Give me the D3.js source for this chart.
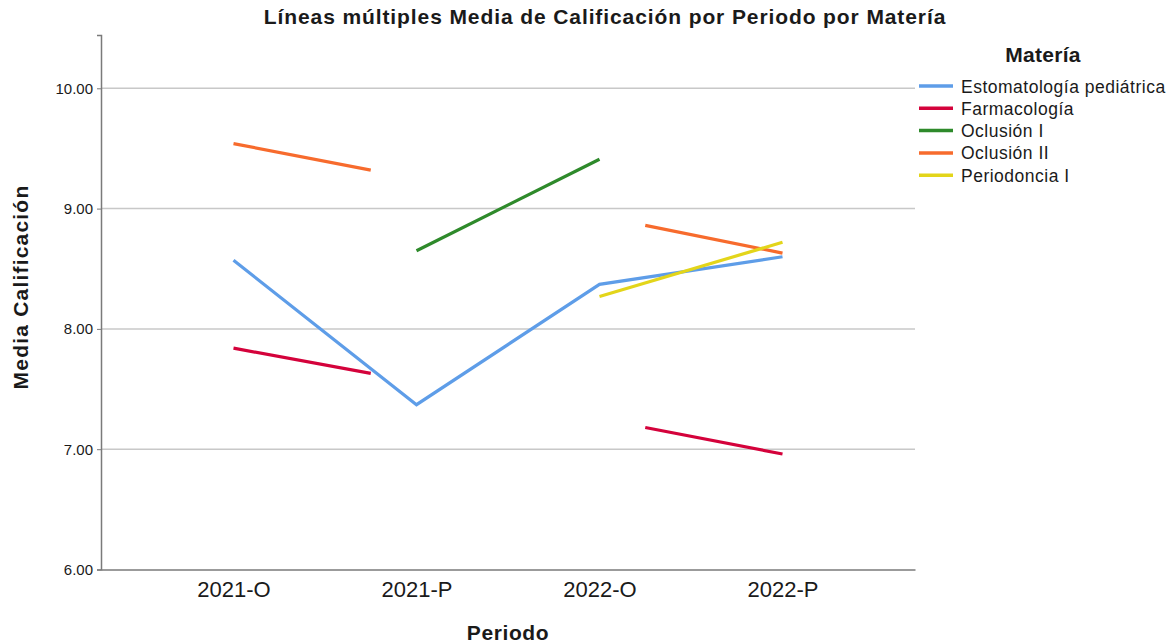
<!DOCTYPE html>
<html>
<head>
    <meta charset="utf-8">
    <style>
        body { margin: 0; background: #fff; }
        text { font-family: "Liberation Sans", Arial, Helvetica, sans-serif; fill: #1a1a1a; }
        .grid line { stroke: #c8c8c8; stroke-width: 1.5px; }
        .serie { fill: none; stroke-width: 3.2px; }
    </style>
    <script src="https://d3js.org/d3.v7.min.js"></script>
</head>
<body>
<script>
    // periodos del eje x
    var periodos = ["2021-O", "2021-P", "2022-O", "2022-P"];
    var yTicks = [6, 7, 8, 9, 10];

    // materias (leyenda) y colores
    var materias = ["Estomatología pediátrica", "Farmacología", "Oclusión I", "Oclusión II", "Periodoncia I"];
    var colores = ["#5e9de8", "#d4023b", "#2e8a2b", "#f76b2d", "#e3d51a"];

    // medias: [indice de periodo, media], null = corte
    var estomatologia = [[0, 8.57], [1, 7.37], [2, 8.37], [3, 8.60]];
    var farmacologia = [[0, 7.84], [0.75, 7.63], null, [2.25, 7.18], [3, 6.96]];
    var oclusion1 = [[1, 8.65], [2, 9.41]];
    var oclusion2 = [[0, 9.54], [0.75, 9.32], null, [2.25, 8.86], [3, 8.63]];
    var periodoncia = [[2, 8.27], [3, 8.72]];

    var series = [estomatologia, farmacologia, oclusion1, oclusion2, periodoncia];

    var width = 1175, height = 644;
    var plot = { left: 101, right: 915, top: 35, bottom: 569.5 };

    var svg = d3.select("body").append("svg")
        .attr("width", width)
        .attr("height", height);

    // escalas
    var x = d3.scalePoint()
        .domain(periodos)
        .range([plot.left, plot.right])
        .padding(0.724);

    var xi = d3.scaleLinear()
        .domain([0, periodos.length - 1])
        .range([x(periodos[0]), x(periodos[periodos.length - 1])]);

    var y = d3.scaleLinear()
        .domain([6, 10.443])
        .range([plot.bottom, plot.top]);

    // lineas de cuadricula
    svg.append("g")
        .attr("class", "grid")
        .selectAll("line")
        .data(yTicks.filter(function(d) { return d > 6; }))
        .enter().append("line")
        .attr("x1", plot.left)
        .attr("x2", plot.right)
        .attr("y1", function(d) { return y(d); })
        .attr("y2", function(d) { return y(d); });

    // eje y
    var yAxis = svg.append("g")
        .attr("transform", "translate(" + plot.left + ",0)")
        .call(d3.axisLeft(y).tickValues(yTicks).tickSize(4).tickPadding(4).tickFormat(d3.format(".2f")));
    yAxis.select(".domain").attr("stroke", "#7a7a7a").attr("stroke-width", 1.5);
    yAxis.selectAll(".tick line").attr("stroke", "#7a7a7a");
    yAxis.selectAll(".tick text")
        .attr("font-size", "15px")
        .attr("fill", "#222")
        .style("font-family", "'Liberation Sans', Arial, sans-serif");

    // eje x
    var xAxis = svg.append("g")
        .attr("transform", "translate(0," + plot.bottom + ")")
        .call(d3.axisBottom(x).tickSize(0).tickPadding(12).tickSizeOuter(0));
    xAxis.select(".domain").attr("stroke", "#7a7a7a").attr("stroke-width", 1.5);
    xAxis.selectAll(".tick text")
        .attr("font-size", "22px")
        .attr("fill", "#222")
        .style("font-family", "'Liberation Sans', Arial, sans-serif");

    // lineas
    var line = d3.line()
        .defined(function(d) { return d !== null; })
        .x(function(d) { return xi(d[0]); })
        .y(function(d) { return y(d[1]); });

    svg.append("g").selectAll("path")
        .data(series)
        .enter().append("path")
        .attr("class", "serie")
        .attr("stroke", function(d, i) { return colores[i]; })
        .attr("d", line);

    // titulos
    svg.append("text")
        .attr("x", 605)
        .attr("y", 24)
        .attr("text-anchor", "middle")
        .attr("font-weight", "bold")
        .attr("font-size", "21px")
        .style("letter-spacing", "0.9px")
        .text("Líneas múltiples Media de Calificación por Periodo por Matería");

    svg.append("text")
        .attr("x", 508)
        .attr("y", 640)
        .attr("text-anchor", "middle")
        .attr("font-weight", "bold")
        .attr("font-size", "21px")
        .style("letter-spacing", "0.6px")
        .text("Periodo");

    svg.append("text")
        .attr("transform", "translate(28,287)rotate(-90)")
        .attr("text-anchor", "middle")
        .attr("font-weight", "bold")
        .attr("font-size", "21px")
        .style("letter-spacing", "1.2px")
        .text("Media Calificación");

    // leyenda
    var legend = svg.append("g");
    legend.append("text")
        .attr("x", 1043)
        .attr("y", 62)
        .attr("text-anchor", "middle")
        .attr("font-weight", "bold")
        .attr("font-size", "21px")
        .style("letter-spacing", "0.3px")
        .text("Matería");

    var item = legend.selectAll("g.item")
        .data(materias)
        .enter().append("g")
        .attr("class", "item")
        .attr("transform", function(d, i) { return "translate(919," + (86 + i * 22.3) + ")"; });

    item.append("line")
        .attr("x1", 0)
        .attr("x2", 34)
        .attr("stroke", function(d, i) { return colores[i]; })
        .attr("stroke-width", 3.5);

    item.append("text")
        .attr("x", 42)
        .attr("y", 6.5)
        .attr("font-size", "17.5px")
        .style("letter-spacing", "0.5px")
        .text(function(d) { return d; });
</script>
</body>
</html>
